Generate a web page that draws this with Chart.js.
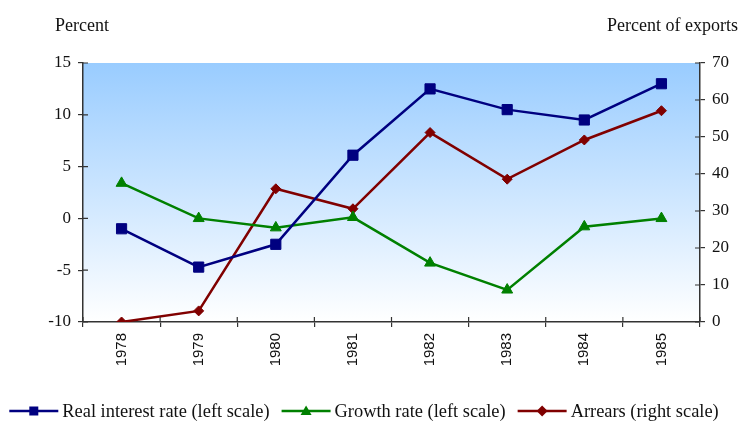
<!DOCTYPE html>
<html>
<head>
<meta charset="utf-8">
<script src="https://cdn.jsdelivr.net/npm/chart.js@4"></script>
<style>
  html, body { margin: 0; padding: 0; background: #fff; }
  #wrap { width: 741px; height: 421px; }
</style>
</head>
<body>
<div id="wrap"><canvas id="chart" width="741" height="421"></canvas></div>
<script>
/* Real interest rate, growth and arrears, 1978-1985 — two y scales. */

const YEARS = ["1978", "1979", "1980", "1981", "1982", "1983", "1984", "1985"];
const REAL_RATE = [-1.0, -4.7, -2.5, 6.1, 12.5, 10.5, 9.5, 13.0];   // left scale
const GROWTH = [3.4, 0.0, -0.9, 0.1, -4.3, -6.9, -0.8, 0.0];        // left scale
const ARREARS = [0, 3.0, 36.0, 30.6, 51.2, 38.6, 49.2, 57.1];       // right scale

const NAVY = "#000080";
const GREEN = "#008000";
const MAROON = "#800000";
const AXIS = "#333333";
const SERIF = "'Liberation Serif', 'Times New Roman', serif";
const SANS = "'Liberation Sans', Arial, sans-serif";

// plot area background: light blue fading to white
const bgGradient = {
  id: "bgGradient",
  beforeDraw(chart) {
    const { ctx, chartArea: a } = chart;
    const g = ctx.createLinearGradient(0, a.top, 0, a.bottom);
    g.addColorStop(0, "#99ccff");
    g.addColorStop(1, "#ffffff");
    ctx.save();
    ctx.fillStyle = g;
    ctx.fillRect(a.left, a.top, a.right - a.left, a.bottom - a.top);
    ctx.restore();
  },
};

// tick marks that cross the axis line (inner half)
const innerTicks = {
  id: "innerTicks",
  afterDatasetsDraw(chart) {
    const { ctx, chartArea: a, scales } = chart;
    ctx.save();
    ctx.strokeStyle = AXIS;
    ctx.lineWidth = 1.2;
    ctx.beginPath();
    scales.y.ticks.forEach((t, i) => {
      const y = scales.y.getPixelForTick(i);
      ctx.moveTo(a.left, y); ctx.lineTo(a.left + 5, y);
    });
    scales.y1.ticks.forEach((t, i) => {
      const y = scales.y1.getPixelForTick(i);
      ctx.moveTo(a.right, y); ctx.lineTo(a.right - 5, y);
    });
    for (let i = 0; i <= YEARS.length; i++) {
      const x = scales.x.getPixelForValue(i - 0.5);
      ctx.moveTo(x, a.bottom); ctx.lineTo(x, a.bottom - 5);
    }
    ctx.stroke();
    ctx.restore();
  },
};

// axis captions above the plot
const captions = {
  id: "captions",
  afterDraw(chart) {
    const { ctx, chartArea: a } = chart;
    ctx.save();
    ctx.fillStyle = "#111";
    ctx.font = "18px " + SERIF;
    ctx.textBaseline = "alphabetic";
    ctx.textAlign = "left";
    ctx.fillText("Percent", a.left - 28, 31);
    ctx.textAlign = "right";
    ctx.fillText("Percent of exports", a.right + 38, 31);
    ctx.restore();
  },
};

function marker(ctx, style, x, y, color) {
  ctx.fillStyle = color;
  ctx.beginPath();
  if (style === "rect") {
    ctx.rect(x - 4.5, y - 4.5, 9, 9);
  } else if (style === "triangle") {
    ctx.moveTo(x, y - 5.5); ctx.lineTo(x + 5.5, y + 4); ctx.lineTo(x - 5.5, y + 4); ctx.closePath();
  } else {
    ctx.moveTo(x, y - 5.5); ctx.lineTo(x + 5.5, y); ctx.lineTo(x, y + 5.5); ctx.lineTo(x - 5.5, y); ctx.closePath();
  }
  ctx.fill();
}

// legend row at the bottom: line with marker, then label
const lineLegend = {
  id: "lineLegend",
  afterDraw(chart) {
    const { ctx } = chart;
    const sets = chart.data.datasets;
    const LINE = 49, GAP = 4, ITEM_GAP = 12, Y = 411;
    ctx.save();
    ctx.font = "18.4px " + SERIF;
    const widths = sets.map(d => ctx.measureText(d.label).width);
    let total = 0;
    widths.forEach((w, i) => { total += LINE + GAP + w + (i < widths.length - 1 ? ITEM_GAP : 0); });
    let x = 364 - total / 2;
    sets.forEach((d, i) => {
      ctx.strokeStyle = d.borderColor;
      ctx.lineWidth = 2.5;
      ctx.beginPath();
      ctx.moveTo(x, Y); ctx.lineTo(x + LINE, Y);
      ctx.stroke();
      marker(ctx, d.pointStyle, x + LINE / 2, Y, d.borderColor);
      ctx.fillStyle = "#111";
      ctx.textAlign = "left";
      ctx.textBaseline = "middle";
      ctx.fillText(d.label, x + LINE + GAP, Y + 1);
      x += LINE + GAP + widths[i] + ITEM_GAP;
    });
    ctx.restore();
  },
};

function series(label, data, color, style, radius, axis) {
  return {
    label, data, yAxisID: axis,
    borderColor: color, backgroundColor: color,
    pointBackgroundColor: color, pointBorderColor: color,
    borderWidth: 2.5, pointStyle: style, pointRadius: radius,
    pointHoverRadius: radius, pointBorderWidth: 1, tension: 0, fill: false,
  };
}

new Chart(document.getElementById("chart"), {
  type: "line",
  data: {
    labels: YEARS,
    datasets: [
      series("Real interest rate (left scale)", REAL_RATE, NAVY, "rect", 7.2, "y"),
      series("Growth rate (left scale)", GROWTH, GREEN, "triangle", 6.3, "y"),
      series("Arrears (right scale)", ARREARS, MAROON, "rectRot", 5, "y1"),
    ],
  },
  plugins: [bgGradient, innerTicks, captions, lineLegend],
  options: {
    responsive: false, animation: false,
    layout: { padding: { top: 63, bottom: 49, left: 0, right: 0 } },
    plugins: { legend: { display: false }, tooltip: { enabled: false } },
    scales: {
      x: {
        offset: true,
        grid: { offset: true, drawOnChartArea: false, drawTicks: true, tickLength: 5, color: AXIS, lineWidth: 1.2 },
        border: { color: AXIS, width: 1.5 },
        ticks: { color: "#111", font: { family: SANS, size: 15 }, minRotation: 90, maxRotation: 90, padding: 6 },
        afterFit: s => { s.height = 50; },
      },
      y: {
        position: "left", min: -10, max: 15,
        grid: { drawOnChartArea: false, drawTicks: true, tickLength: 5, color: AXIS, lineWidth: 1.2 },
        border: { color: AXIS, width: 1.5 },
        ticks: { stepSize: 5, color: "#111", font: { family: SERIF, size: 17 }, padding: 7 },
        afterFit: s => { s.width = 83; },
      },
      y1: {
        position: "right", min: 0, max: 70,
        grid: { drawOnChartArea: false, drawTicks: true, tickLength: 5, color: AXIS, lineWidth: 1.2 },
        border: { color: AXIS, width: 1.5 },
        ticks: { stepSize: 10, color: "#111", font: { family: SERIF, size: 17 }, padding: 7 },
        afterFit: s => { s.width = 41; },
      },
    },
  },
});
</script>
</body>
</html>
